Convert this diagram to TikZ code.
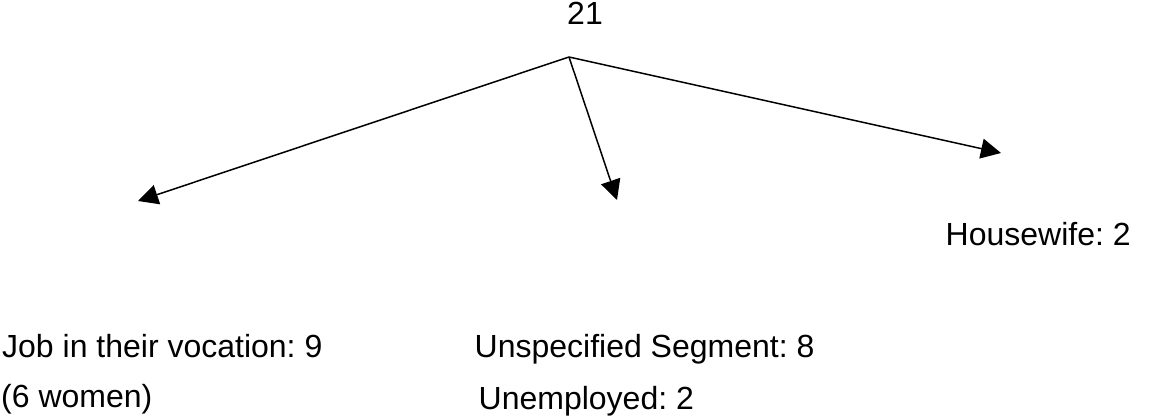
\documentclass[tikz,border=0pt]{standalone}
\usepackage{fontspec}
\setmainfont{Liberation Sans}
\usetikzlibrary{arrows.meta}
\frenchspacing
\begin{document}
\begin{tikzpicture}[x=1pt,y=-1pt,
  lbl/.style={inner sep=0pt,anchor=base west,font=\fontsize{32}{38}\selectfont},
  branch/.style={line width=1.5pt,-{Triangle[length=20pt,width=20pt]}}]
\useasboundingbox (0,0) rectangle (1165,420);
\node[lbl,anchor=base] (top) at (585,25) {21};
\coordinate (apex) at (569,57);
\coordinate (tipL) at (138,201);
\coordinate (tipM) at (617,200);
\coordinate (tipR) at (1001,153);
\draw[branch] (apex) -- (tipL);
\draw[branch] (apex) -- (tipM);
\draw[branch] (apex) -- (tipR);
\node[lbl] (house) at (945.5,245) {Housewife: 2};
\node[lbl] (job) at (2,357) {Job in their vocation: 9};
\node[lbl] (women) at (1,407) {(6 women)};
\node[lbl] (unspec) at (474.5,357) {Unspecified Segment: 8};
\node[lbl] (unemp) at (478.5,409) {Unemployed: 2};
\end{tikzpicture}
\end{document}
